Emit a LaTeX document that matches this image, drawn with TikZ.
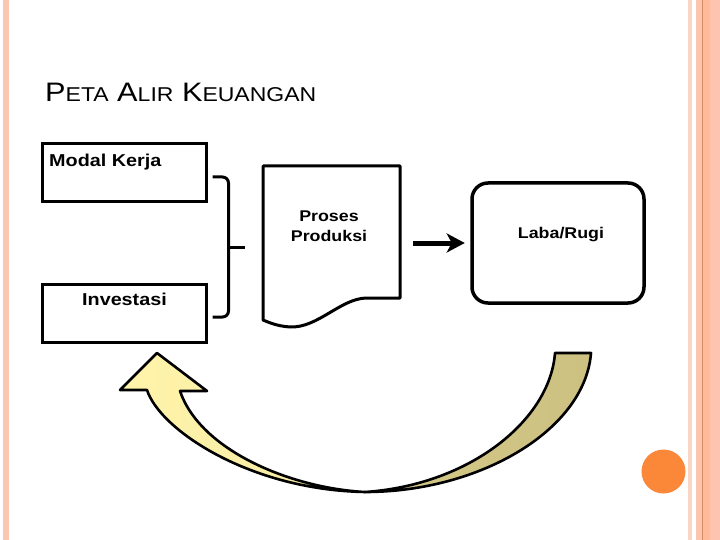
\documentclass[tikz,border=0pt]{standalone}
\usepackage{fontspec}
\setmainfont{Liberation Sans}
\newfontfamily\slidefont[FakeStretch=1.15]{Liberation Sans}
\usepackage{xcolor}
\usepackage{tikz}
\usetikzlibrary{positioning,arrows.meta}
\definecolor{stripe}{RGB}{249,199,178}
\definecolor{stripelight}{RGB}{250,212,196}
\definecolor{stripemid}{RGB}{253,196,176}
\definecolor{stripedeep}{RGB}{255,186,152}
\definecolor{stripeline}{RGB}{214,140,100}
\definecolor{paleyel}{RGB}{255,244,170}
\definecolor{khaki}{RGB}{205,193,130}
\definecolor{dotorange}{RGB}{250,136,56}
\newcommand\smallpart[1]{{\fontsize{20}{24}\selectfont #1}}

\begin{document}
\begin{tikzpicture}[x=1pt,y=-1pt,
  box/.style={draw,line width=3pt,minimum width=164pt,minimum height=58pt,inner sep=0pt},
  txt/.style={inner sep=0pt,font=\slidefont\bfseries\fontsize{17.2}{20}\selectfont},
  txtsmall/.style={inner sep=0pt,align=center,font=\slidefont\bfseries\fontsize{15.5}{19.5}\selectfont},
  loopback/.style={draw,line width=2.6pt,line join=round},
  flow/.style={line width=5pt,-{Stealth[length=18pt,width=19pt,inset=5pt]}}]
  \useasboundingbox (0,0) rectangle (720,540);
  \fill[white] (0,0) rectangle (720,540);
  % side stripes
  \fill[stripe] (3,0) rectangle (9,540);
  \fill[stripelight] (688,0) rectangle (692,540);
  \fill[stripemid] (696,0) rectangle (720,540);
  \fill[stripedeep] (703,0) rectangle (710,540);
  \draw[stripeline,line width=1pt] (702.5,0) -- (702.5,540);
  \node (dot) at (663.5,471.5) [circle,fill=dotorange,minimum size=44pt,inner sep=0pt] {};
  % title
  \node (title) at (45,102) [anchor=base west,inner sep=0pt,font=\slidefont\fontsize{26.7}{30}\selectfont]
    {P\smallpart{ETA} A\smallpart{LIR} K\smallpart{EUANGAN}};
  % inputs
  \node[box] (modal) at (124,173) {};
  \node[box] (invest) at (124,313) {};
  \node[txt,anchor=base west] (modaltxt) at (49,167) {Modal Kerja};
  \node[txt,anchor=base] (investtxt) at (124.5,305.5) {Investasi};
  % bracket
  \draw[line width=3pt,rounded corners=6pt] ([xshift=5pt,yshift=-4pt]modal.east) -- ++(16,0)
    |- ([xshift=5pt,yshift=-4pt]invest.east);
  \coordinate (join) at (227,247);
  \draw[line width=3pt] (join) -- ++(18,0);
  % process document
  \draw[line width=3pt,line join=round] (263,166) -- (400,166) -- (400,298) -- (366,298)
    .. controls (340,299) and (318,328) .. (290,327)
    .. controls (276,326) and (268,322) .. (263,320) -- cycle;
  \node[txtsmall,anchor=base] (proses) at (329,241) {Proses\\Produksi};
  \coordinate (docE) at (400,243);
  % result
  \node[box,rounded corners=16pt,minimum width=172pt,minimum height=120pt,line width=3.5pt] (laba) at (558,243) {};
  \node[txtsmall,anchor=base] (labatxt) at (561,238) {Laba/Rugi};
  \draw[flow,shorten <=13pt,shorten >=5.5pt] (docE) -- (laba.west);
  % curved arrow back
  \draw[loopback,left color=khaki!85!paleyel,right color=khaki] (555,353) -- (591,353)
    .. controls (585,430) and (480,492) .. (365,492)
    .. controls (470,485) and (550,420) .. (555,353) -- cycle;
  \draw[loopback,left color=paleyel,right color=paleyel!80!khaki] (147,390)
    .. controls (160,430) and (250,490) .. (365,492)
    .. controls (290,488) and (200,450) .. (180,391)
    -- (207,391) -- (157,353) -- (120,390) -- cycle;
\end{tikzpicture}
\end{document}
